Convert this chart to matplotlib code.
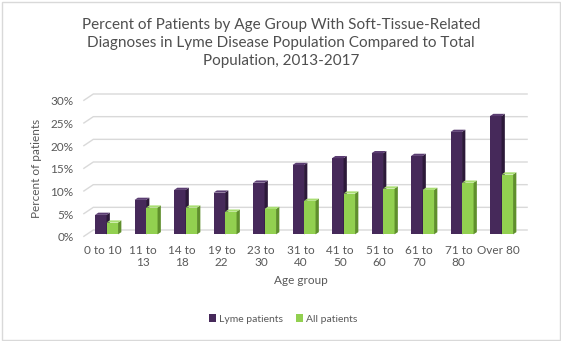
import matplotlib
matplotlib.use("Agg")
import matplotlib.pyplot as plt
from matplotlib.patches import Polygon

plt.rcParams['font.family'] = ['Lato', 'DejaVu Sans']

groups = ["0 to 10", "11 to\n13", "14 to\n18", "19 to\n22", "23 to\n30",
          "31 to\n40", "41 to\n50", "51 to\n60", "61 to\n70", "71 to\n80",
          "Over 80"]
lyme = [4.3, 7.6, 9.8, 9.2, 11.4, 15.3, 16.8, 17.9, 17.3, 22.6, 26.1]
all_pat = [2.6, 5.9, 5.9, 5.0, 5.6, 7.4, 9.0, 10.1, 9.8, 11.4, 13.2]
yticks = [0, 5, 10, 15, 20, 25, 30]

W, H = 561, 341
text_col = '#595959'
grid_col = '#D9D9D9'
lyme_cols = ('#46295A', '#2C1939', '#5B3D72')   # front, side, top
all_cols = ('#92D050', '#5F8F2C', '#A9DE72')

fig = plt.figure(figsize=(W / 100, H / 100), dpi=100)
# front plane of the pseudo-3d box, in pixels
x0, x1, yb, yt = 83.3, 517.8, 236.7, 100.7
ax = fig.add_axes([x0 / W, (H - yb) / H, (x1 - x0) / W, (yb - yt) / H])
ax.set_xlim(-0.5, len(groups) - 0.5)
ax.set_ylim(0, 30)
for s in ax.spines.values():
    s.set_visible(False)

# pixel -> data units
px_x = (len(groups)) / (x1 - x0)
px_y = 30 / (yb - yt)
depth = (10 * px_x, 6.7 * px_y)

# back wall gridlines + slanted floor/side lines
for v in yticks:
    ax.plot([-0.5, -0.5 + depth[0], len(groups) - 0.5 + depth[0]],
            [v, v + depth[1], v + depth[1]], color=grid_col, lw=1,
            zorder=0, clip_on=False, solid_capstyle='butt')

bw = 11.5 * px_x
off = (3.5 * px_x, 2.35 * px_y)
bd = (3.3 * px_x, 2.2 * px_y)
xs = range(len(groups))


def draw_3d(bars, cols, z):
    for b in bars:
        b.set_zorder(z)
        l, r = b.get_x(), b.get_x() + b.get_width()
        bot, top = b.get_y(), b.get_y() + b.get_height()
        side = [(r, bot), (r + bd[0], bot + bd[1]),
                (r + bd[0], top + bd[1]), (r, top)]
        cap = [(l, top), (r, top), (r + bd[0], top + bd[1]),
               (l + bd[0], top + bd[1])]
        ax.add_patch(Polygon(side, closed=True, fc=cols[1], ec='none',
                             zorder=z, clip_on=False))
        ax.add_patch(Polygon(cap, closed=True, fc=cols[2], ec='none',
                             zorder=z, clip_on=False))


b1 = ax.bar([x + off[0] - bw / 2 for x in xs], lyme, width=bw, bottom=off[1],
            color=lyme_cols[0], label='Lyme patients', clip_on=False)
draw_3d(b1, lyme_cols, 2)
b2 = ax.bar([x + off[0] + bw / 2 for x in xs], all_pat, width=bw,
            bottom=off[1], color=all_cols[0], label='All patients',
            clip_on=False)
draw_3d(b2, all_cols, 3)

ax.set_yticks(yticks)
ax.set_yticklabels([f"{v}%" for v in yticks])
ax.set_xticks(list(xs))
ax.set_xticklabels(groups, linespacing=1.1)
ax.tick_params(axis='y', length=0, pad=7, labelsize=8.5, labelcolor=text_col)
ax.tick_params(axis='x', length=0, pad=6, labelsize=8.5, labelcolor=text_col)
for t in ax.get_xticklabels():
    t.set_verticalalignment('top')

ax.set_ylabel("Percent of patients", fontsize=8.5, color=text_col, labelpad=6)
ax.set_xlabel("Age group", fontsize=8.5, color=text_col, labelpad=5)

fig.text(281 / W, 1 - 18 / H,
         "Percent of Patients by Age Group With Soft-Tissue-Related\n"
         "Diagnoses in Lyme Disease Population Compared to Total\n"
         "Population, 2013-2017",
         ha='center', va='top', fontsize=11, color='#4F4F4F',
         linespacing=1.38)

fig.legend(handles=[b1, b2], loc='center', bbox_to_anchor=(283 / W, 1 - 319 / H),
           ncol=2, frameon=False, fontsize=7.5, labelcolor=text_col,
           handlelength=0.7, handleheight=0.7, handletextpad=0.3,
           columnspacing=1.2)

# chart area border
fig.patches.append(plt.Rectangle((1.5 / W, 1.5 / H), 1 - 3 / W, 1 - 3 / H,
                                 transform=fig.transFigure, fill=False,
                                 ec='#D9D9D9', lw=1))

fig.savefig("out.png", dpi=100)
